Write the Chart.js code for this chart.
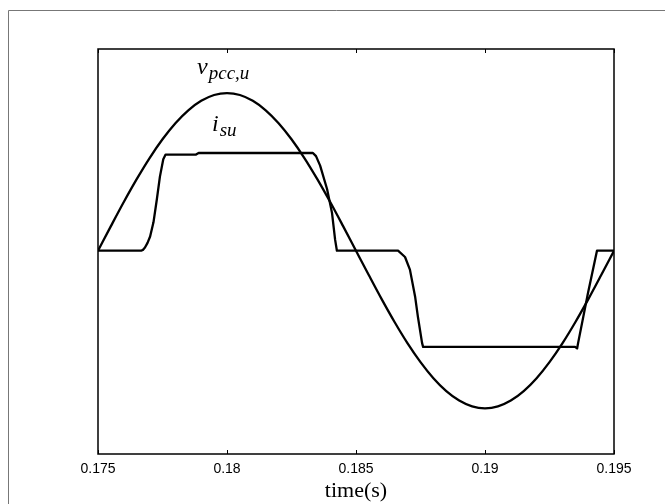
<!DOCTYPE html>
<html>
<head>
<meta charset="utf-8">
<script src="https://cdn.jsdelivr.net/npm/chart.js@4"></script>
<style>
  html, body { margin: 0; padding: 0; background: #fff; }
  canvas { display: block; }
</style>
</head>
<body>
<canvas id="wave-chart" width="665" height="504"></canvas>
<script>
// PCC voltage, phase u (per unit of its peak)
var vTime = [0.1750, 0.1755, 0.1760, 0.1765, 0.1770, 0.1775, 0.1780, 0.1785, 0.1790, 0.1795,
             0.1800, 0.1805, 0.1810, 0.1815, 0.1820, 0.1825, 0.1830, 0.1835, 0.1840, 0.1845,
             0.1850, 0.1855, 0.1860, 0.1865, 0.1870, 0.1875, 0.1880, 0.1885, 0.1890, 0.1895,
             0.1900, 0.1905, 0.1910, 0.1915, 0.1920, 0.1925, 0.1930, 0.1935, 0.1940, 0.1945, 0.1950];
var vPcc = [0, 0.156, 0.309, 0.454, 0.588, 0.707, 0.809, 0.891, 0.951, 0.988,
            1.0, 0.988, 0.951, 0.891, 0.809, 0.707, 0.588, 0.454, 0.309, 0.156,
            0, -0.156, -0.309, -0.454, -0.588, -0.707, -0.809, -0.891, -0.951, -0.988,
            -1.0, -0.988, -0.951, -0.891, -0.809, -0.707, -0.588, -0.454, -0.309, -0.156, 0];

// supply current, phase u
var iTime = [0.175, 0.17667, 0.17674, 0.17682, 0.17692, 0.17702, 0.17715, 0.17728, 0.1774, 0.17753,
             0.17762, 0.1788, 0.1789, 0.1800, 0.1810, 0.1820, 0.1830, 0.18333, 0.18345, 0.18361,
             0.18388, 0.18407, 0.18419, 0.18426, 0.1850, 0.1860, 0.18663, 0.1869, 0.18709, 0.18729,
             0.1874, 0.18756, 0.1876, 0.1880, 0.1890, 0.1900, 0.1910, 0.1920, 0.1930, 0.19349,
             0.19357, 0.19361, 0.19399, 0.19434, 0.1950];
var iSu = [0, 0, 0.005, 0.02, 0.05, 0.09, 0.18, 0.325, 0.47, 0.58,
           0.61, 0.61, 0.62, 0.62, 0.62, 0.62, 0.62, 0.62, 0.60, 0.54,
           0.39, 0.24, 0.07, 0, 0, 0, 0, -0.04, -0.12, -0.29,
           -0.42, -0.585, -0.61, -0.61, -0.61, -0.61, -0.61, -0.61, -0.61, -0.61,
           -0.62, -0.585, -0.27, 0, 0];

var xTicks = [0.175, 0.18, 0.185, 0.19, 0.195];

function toPoints(ts, vs) {
  return ts.map(function (t, k) { return { x: t, y: vs[k] }; });
}

// page border, plot box and inward tick marks
var framePlugin = {
  id: 'frame',
  beforeDraw: function (chart) {
    var ctx = chart.ctx;
    ctx.save();
    ctx.fillStyle = '#fff';
    ctx.fillRect(0, 0, chart.width, chart.height);
    ctx.strokeStyle = '#777';
    ctx.lineWidth = 1;
    ctx.beginPath();
    ctx.moveTo(8.5, chart.height);
    ctx.lineTo(8.5, 10.5);
    ctx.lineTo(chart.width, 10.5);
    ctx.stroke();
    ctx.restore();
  },
  afterDraw: function (chart) {
    var a = chart.chartArea, ctx = chart.ctx, xs = chart.scales.x;
    ctx.save();
    ctx.strokeStyle = '#000';
    ctx.lineWidth = 1.5;
    ctx.strokeRect(a.left, a.top, a.right - a.left, a.bottom - a.top);
    ctx.lineWidth = 1;
    xTicks.forEach(function (t) {
      var px = Math.round(xs.getPixelForValue(t)) + 0.5;
      ctx.beginPath();
      ctx.moveTo(px, a.bottom);
      ctx.lineTo(px, a.bottom - 4);
      ctx.moveTo(px, a.top);
      ctx.lineTo(px, a.top + 4);
      ctx.stroke();
    });
    ctx.restore();
  }
};

// curve names with subscripts
function subLabel(ctx, x, y, main, sub) {
  ctx.font = 'italic 24px "Liberation Serif"';
  ctx.fillText(main, x, y);
  var w = ctx.measureText(main).width;
  ctx.font = 'italic 19px "Liberation Serif"';
  ctx.fillText(sub, x + w + 1, y + 5);
}

var labelPlugin = {
  id: 'curveLabels',
  afterDatasetsDraw: function (chart) {
    var ctx = chart.ctx, xs = chart.scales.x, ys = chart.scales.y;
    ctx.save();
    ctx.fillStyle = '#000';
    ctx.textBaseline = 'alphabetic';
    subLabel(ctx, xs.getPixelForValue(0.17884), ys.getPixelForValue(1.12), 'v', 'pcc,u');
    subLabel(ctx, xs.getPixelForValue(0.17942), ys.getPixelForValue(0.76), 'i', 'su');
    ctx.restore();
  }
};

new Chart(document.getElementById('wave-chart'), {
  type: 'line',
  data: {
    datasets: [
      {
        label: 'v_pcc,u',
        data: toPoints(vTime, vPcc),
        borderColor: '#000',
        borderWidth: 2.3,
        pointRadius: 0,
        fill: false,
        cubicInterpolationMode: 'monotone'
      },
      {
        label: 'i_su',
        data: toPoints(iTime, iSu),
        borderColor: '#000',
        borderWidth: 2.3,
        borderJoinStyle: 'round',
        pointRadius: 0,
        fill: false,
        tension: 0
      }
    ]
  },
  options: {
    responsive: false,
    animation: false,
    events: [],
    layout: { padding: { left: 98, right: 51, top: 49, bottom: 0 } },
    plugins: {
      legend: { display: false },
      tooltip: { enabled: false }
    },
    scales: {
      x: {
        type: 'linear',
        min: 0.175,
        max: 0.195,
        grid: { display: false, drawTicks: false },
        border: { display: false },
        afterBuildTicks: function (scale) {
          scale.ticks = xTicks.map(function (v) { return { value: v }; });
        },
        afterFit: function (scale) { scale.height = 50; },
        ticks: {
          padding: 7,
          color: '#000',
          autoSkip: false,
          maxRotation: 0,
          font: { family: 'Liberation Sans', size: 14 },
          callback: function (v) { return String(Number(v.toFixed(3))); }
        },
        title: {
          display: true,
          text: 'time(s)',
          color: '#000',
          font: { family: 'Liberation Serif', size: 22 },
          padding: { top: 0, bottom: 0 }
        }
      },
      y: {
        display: false,
        min: -1.29,
        max: 1.28
      }
    }
  },
  plugins: [framePlugin, labelPlugin]
});
</script>
</body>
</html>
